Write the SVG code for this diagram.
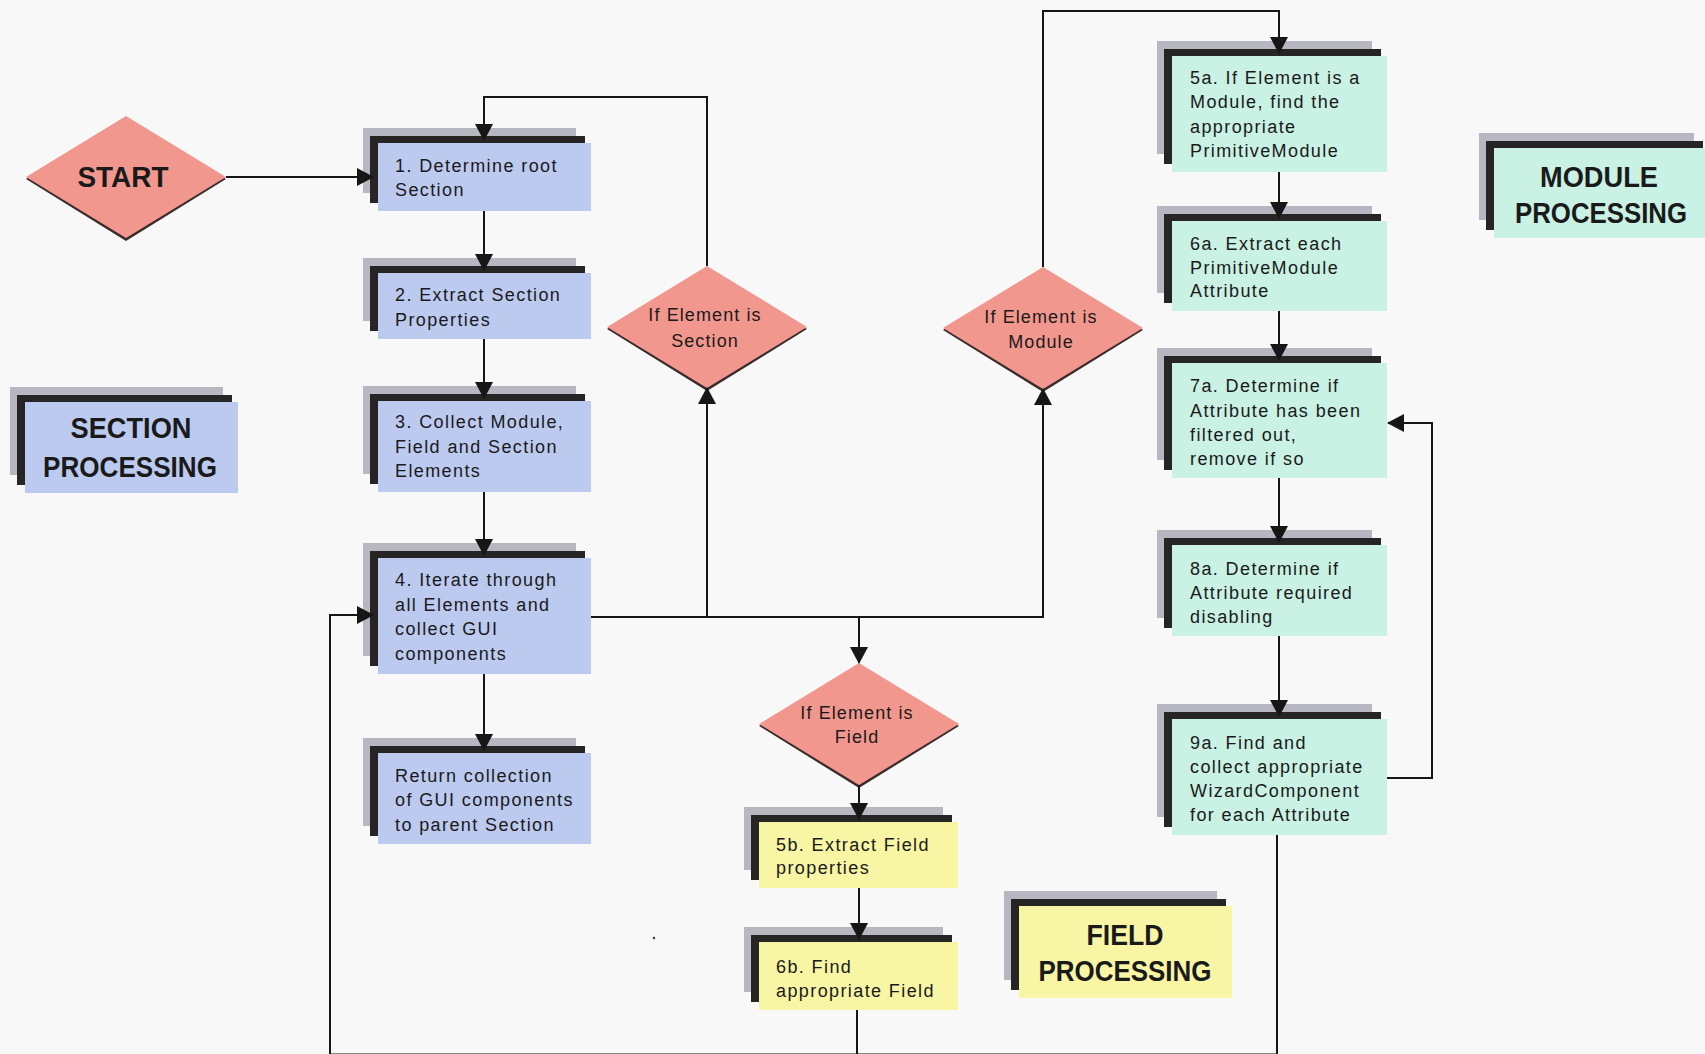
<svg xmlns="http://www.w3.org/2000/svg" width="1705" height="1054" viewBox="0 0 1705 1054">
  <defs>
    <marker id="arrow" markerUnits="userSpaceOnUse" markerWidth="18" markerHeight="18" refX="16" refY="9" orient="auto">
      <path d="M0,0 L17,9 L0,18 Z" fill="#161616"/>
    </marker>
  </defs>
  <style>
    .bg { fill: #f8f8f8; }
    .shadow { fill: #b6b7c0; }
    .band { fill: #262424; }
    .sec { fill: #bccaf0; }
    .mod { fill: #c9f1e4; }
    .fld { fill: #f8f5a4; }
    .dia { fill: #f2978e; }
    .diaedge { fill: #3a2c2c; }
    .txt { font-family: "Liberation Sans", Arial, sans-serif; font-size: 18px; letter-spacing: 1.4px; fill: #1a1a1a; }
    .mid { text-anchor: middle; letter-spacing: 1.1px; }
    .lbl { font-family: "Liberation Sans", Arial, sans-serif; font-size: 29px; font-weight: bold; fill: #1a1a1a; text-anchor: middle; }
    .conn { fill: none; stroke: #161616; stroke-width: 2; }
  </style>

  <rect class="bg" x="0" y="0" width="1705" height="1054"/>

  <!-- start -->
  <g id="start">
    <polygon class="diaedge" points="26,179 126,118 226,179 126,241"/>
    <polygon class="dia" points="26,177 126,116 226,177 126,238"/>
    <text class="lbl" x="123" y="187" textLength="91" lengthAdjust="spacingAndGlyphs">START</text>
  </g>

  <!-- section column -->
  <g id="step1">
    <rect class="shadow" x="363" y="128" width="213" height="65"/>
    <rect class="band" x="370" y="136" width="215" height="7"/>
    <rect class="band" x="370" y="136" width="8" height="67"/>
    <rect class="sec" x="378" y="143" width="213" height="68"/>
    <text class="txt" x="395" y="172">1. Determine root</text>
    <text class="txt" x="395" y="196">Section</text>
  </g>
  <g id="step2">
    <rect class="shadow" x="363" y="258" width="213" height="63"/>
    <rect class="band" x="370" y="266" width="215" height="7"/>
    <rect class="band" x="370" y="266" width="8" height="65"/>
    <rect class="sec" x="378" y="273" width="213" height="66"/>
    <text class="txt" x="395" y="301">2. Extract Section</text>
    <text class="txt" x="395" y="326">Properties</text>
  </g>
  <g id="step3">
    <rect class="shadow" x="363" y="386" width="213" height="88"/>
    <rect class="band" x="370" y="394" width="215" height="7"/>
    <rect class="band" x="370" y="394" width="8" height="90"/>
    <rect class="sec" x="378" y="401" width="213" height="91"/>
    <text class="txt" x="395" y="428">3. Collect Module,</text>
    <text class="txt" x="395" y="453">Field and Section</text>
    <text class="txt" x="395" y="477">Elements</text>
  </g>
  <g id="step4">
    <rect class="shadow" x="363" y="543" width="213" height="113"/>
    <rect class="band" x="370" y="551" width="215" height="7"/>
    <rect class="band" x="370" y="551" width="8" height="115"/>
    <rect class="sec" x="378" y="558" width="213" height="116"/>
    <text class="txt" x="395" y="586">4. Iterate through</text>
    <text class="txt" x="395" y="611">all Elements and</text>
    <text class="txt" x="395" y="635">collect GUI</text>
    <text class="txt" x="395" y="660">components</text>
  </g>
  <g id="return">
    <rect class="shadow" x="363" y="738" width="213" height="88"/>
    <rect class="band" x="370" y="746" width="215" height="7"/>
    <rect class="band" x="370" y="746" width="8" height="90"/>
    <rect class="sec" x="378" y="753" width="213" height="91"/>
    <text class="txt" x="395" y="782">Return collection</text>
    <text class="txt" x="395" y="806">of GUI components</text>
    <text class="txt" x="395" y="831">to parent Section</text>
  </g>
  <g id="section-label">
    <rect class="shadow" x="10" y="387" width="213" height="88"/>
    <rect class="band" x="17" y="395" width="215" height="7"/>
    <rect class="band" x="17" y="395" width="8" height="90"/>
    <rect class="sec" x="25" y="402" width="213" height="91"/>
    <text class="lbl" x="131" y="438" textLength="121" lengthAdjust="spacingAndGlyphs">SECTION</text>
    <text class="lbl" x="130" y="477" textLength="174" lengthAdjust="spacingAndGlyphs">PROCESSING</text>
  </g>

  <!-- decisions -->
  <g id="is-section">
    <polygon class="diaedge" points="607,329 707,268 807,329 707,391"/>
    <polygon class="dia" points="607,327 707,266 807,327 707,388"/>
    <text class="txt mid" x="705" y="321">If Element is</text>
    <text class="txt mid" x="705" y="347">Section</text>
  </g>
  <g id="is-module">
    <polygon class="diaedge" points="943,330 1043,269 1143,330 1043,392"/>
    <polygon class="dia" points="943,328 1043,267 1143,328 1043,389"/>
    <text class="txt mid" x="1041" y="323">If Element is</text>
    <text class="txt mid" x="1041" y="348">Module</text>
  </g>
  <g id="is-field">
    <polygon class="diaedge" points="759,726 859,665 959,726 859,788"/>
    <polygon class="dia" points="759,724 859,663 959,724 859,785"/>
    <text class="txt mid" x="857" y="719">If Element is</text>
    <text class="txt mid" x="857" y="743">Field</text>
  </g>

  <!-- module column -->
  <g id="step5a">
    <rect class="shadow" x="1157" y="41" width="215" height="113"/>
    <rect class="band" x="1164" y="49" width="217" height="7"/>
    <rect class="band" x="1164" y="49" width="8" height="115"/>
    <rect class="mod" x="1172" y="56" width="215" height="116"/>
    <text class="txt" x="1190" y="84">5a. If Element is a</text>
    <text class="txt" x="1190" y="108">Module, find the</text>
    <text class="txt" x="1190" y="133">appropriate</text>
    <text class="txt" x="1190" y="157">PrimitiveModule</text>
  </g>
  <g id="step6a">
    <rect class="shadow" x="1157" y="206" width="215" height="87"/>
    <rect class="band" x="1164" y="214" width="217" height="7"/>
    <rect class="band" x="1164" y="214" width="8" height="89"/>
    <rect class="mod" x="1172" y="221" width="215" height="90"/>
    <text class="txt" x="1190" y="250">6a. Extract each</text>
    <text class="txt" x="1190" y="274">PrimitiveModule</text>
    <text class="txt" x="1190" y="297">Attribute</text>
  </g>
  <g id="step7a">
    <rect class="shadow" x="1157" y="348" width="215" height="112"/>
    <rect class="band" x="1164" y="356" width="217" height="7"/>
    <rect class="band" x="1164" y="356" width="8" height="114"/>
    <rect class="mod" x="1172" y="363" width="215" height="115"/>
    <text class="txt" x="1190" y="392">7a. Determine if</text>
    <text class="txt" x="1190" y="417">Attribute has been</text>
    <text class="txt" x="1190" y="441">filtered out,</text>
    <text class="txt" x="1190" y="465">remove if so</text>
  </g>
  <g id="step8a">
    <rect class="shadow" x="1157" y="530" width="215" height="88"/>
    <rect class="band" x="1164" y="538" width="217" height="7"/>
    <rect class="band" x="1164" y="538" width="8" height="90"/>
    <rect class="mod" x="1172" y="545" width="215" height="91"/>
    <text class="txt" x="1190" y="575">8a. Determine if</text>
    <text class="txt" x="1190" y="599">Attribute required</text>
    <text class="txt" x="1190" y="623">disabling</text>
  </g>
  <g id="step9a">
    <rect class="shadow" x="1157" y="704" width="215" height="113"/>
    <rect class="band" x="1164" y="712" width="217" height="7"/>
    <rect class="band" x="1164" y="712" width="8" height="115"/>
    <rect class="mod" x="1172" y="719" width="215" height="116"/>
    <text class="txt" x="1190" y="749">9a. Find and</text>
    <text class="txt" x="1190" y="773">collect appropriate</text>
    <text class="txt" x="1190" y="797">WizardComponent</text>
    <text class="txt" x="1190" y="821">for each Attribute</text>
  </g>
  <g id="module-label">
    <rect class="shadow" x="1479" y="133" width="215" height="87"/>
    <rect class="band" x="1486" y="141" width="217" height="7"/>
    <rect class="band" x="1486" y="141" width="8" height="89"/>
    <rect class="mod" x="1494" y="148" width="215" height="90"/>
    <text class="lbl" x="1599" y="187" textLength="118" lengthAdjust="spacingAndGlyphs">MODULE</text>
    <text class="lbl" x="1601" y="223" textLength="172" lengthAdjust="spacingAndGlyphs">PROCESSING</text>
  </g>

  <!-- field column -->
  <g id="step5b">
    <rect class="shadow" x="744" y="807" width="199" height="63"/>
    <rect class="band" x="751" y="815" width="201" height="7"/>
    <rect class="band" x="751" y="815" width="8" height="65"/>
    <rect class="fld" x="759" y="822" width="199" height="66"/>
    <text class="txt" x="776" y="851">5b. Extract Field</text>
    <text class="txt" x="776" y="874">properties</text>
  </g>
  <g id="step6b">
    <rect class="shadow" x="744" y="927" width="199" height="65"/>
    <rect class="band" x="751" y="935" width="201" height="7"/>
    <rect class="band" x="751" y="935" width="8" height="67"/>
    <rect class="fld" x="759" y="942" width="199" height="68"/>
    <text class="txt" x="776" y="973">6b. Find</text>
    <text class="txt" x="776" y="997">appropriate Field</text>
  </g>
  <g id="field-label">
    <rect class="shadow" x="1004" y="891" width="213" height="89"/>
    <rect class="band" x="1011" y="899" width="215" height="7"/>
    <rect class="band" x="1011" y="899" width="8" height="91"/>
    <rect class="fld" x="1019" y="906" width="213" height="92"/>
    <text class="lbl" x="1125" y="945" textLength="77" lengthAdjust="spacingAndGlyphs">FIELD</text>
    <text class="lbl" x="1125" y="981" textLength="173" lengthAdjust="spacingAndGlyphs">PROCESSING</text>
  </g>

  <!-- connectors, drawn over the boxes so the arrowheads sit on the top bands -->
  <g id="connectors">
    <path class="conn" d="M226,177 H373" marker-end="url(#arrow)"/>
    <path class="conn" d="M707,266 V97 H484 V140" marker-end="url(#arrow)"/>
    <path class="conn" d="M484,211 V270" marker-end="url(#arrow)"/>
    <path class="conn" d="M484,339 V398" marker-end="url(#arrow)"/>
    <path class="conn" d="M484,492 V555" marker-end="url(#arrow)"/>
    <path class="conn" d="M484,674 V750" marker-end="url(#arrow)"/>
    <path class="conn" d="M591,617 H1043 V389" marker-end="url(#arrow)"/>
    <path class="conn" d="M707,617 V388" marker-end="url(#arrow)"/>
    <path class="conn" d="M859,617 V663" marker-end="url(#arrow)"/>
    <path class="conn" d="M1043,267 V11 H1279 V53" marker-end="url(#arrow)"/>
    <path class="conn" d="M1279,172 V218" marker-end="url(#arrow)"/>
    <path class="conn" d="M1279,311 V360" marker-end="url(#arrow)"/>
    <path class="conn" d="M1279,478 V542" marker-end="url(#arrow)"/>
    <path class="conn" d="M1279,636 V716" marker-end="url(#arrow)"/>
    <path class="conn" d="M1387,778 H1432 V423 H1388" marker-end="url(#arrow)"/>
    <path class="conn" d="M1277,835 V1054.5 H330 V615 H373" marker-end="url(#arrow)"/>
    <path class="conn" d="M859,785 V819" marker-end="url(#arrow)"/>
    <path class="conn" d="M859,888 V939" marker-end="url(#arrow)"/>
    <path class="conn" d="M857,1010 V1054.5"/>
  </g>

  <circle cx="654" cy="938" r="1.2" fill="#333"/>
</svg>
